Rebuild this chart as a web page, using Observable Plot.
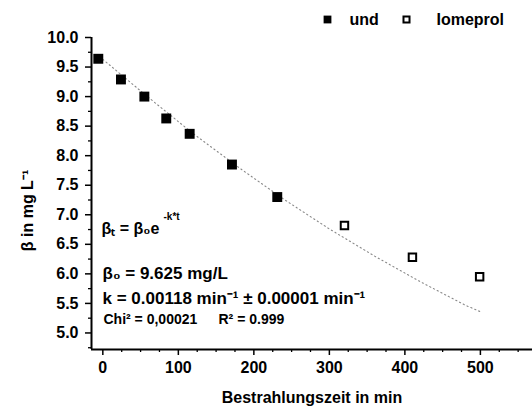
<!DOCTYPE html>
<html>
<head>
<meta charset="utf-8">
<script src="https://cdn.jsdelivr.net/npm/d3@7"></script>
<script src="https://cdn.jsdelivr.net/npm/@observablehq/plot@0.6"></script>
<style>
  html, body { margin: 0; padding: 0; background: #fff; }
</style>
</head>
<body>
<div id="chart"></div>
<script>
const timeUnd = [-6, 24, 55, 84, 115, 171, 231];
const betaUnd = [9.64, 9.29, 9.00, 8.63, 8.37, 7.85, 7.30];
const timeIomeprol = [320, 410, 499];
const betaIomeprol = [6.82, 6.28, 5.95];
// Fitted curve
const timeFit = [0, 60, 120, 180, 240, 300, 360, 420, 480, 500];
const betaFit = [9.63, 8.99, 8.37, 7.80, 7.26, 6.76, 6.30, 5.87, 5.47, 5.36];

// Axes
const xDomain = [-15, 569];
const yDomain = [4.72, 10.0];
const xTicks = [0, 100, 200, 300, 400, 500];
const xMinor = [25, 50, 75, 125, 150, 175, 225, 250, 275, 325, 350, 375, 425, 450, 475, 525, 550];
const yTicks = [5.0, 5.5, 6.0, 6.5, 7.0, 7.5, 8.0, 8.5, 9.0, 9.5, 10.0];
const yMinor = [4.75, 5.25, 5.75, 6.25, 6.75, 7.25, 7.75, 8.25, 8.75, 9.25, 9.75];

// Texts
const xLabel = "Bestrahlungszeit in min";
const yLabel = "β in mg L⁻¹";
const legendLabels = ["und", "Iomeprol"];
const eqMain = "βₜ = β₀e";
const eqSup = "-k*t";
const eqBeta0 = "β₀ = 9.625 mg/L";
const eqK = "k = 0.00118 min⁻¹ ± 0.00001 min⁻¹";
const eqChi = "Chi² = 0,00021";
const eqR2 = "R² = 0.999";

const und = timeUnd.map((t, i) => ({t, beta: betaUnd[i]}));
const iome = timeIomeprol.map((t, i) => ({t, beta: betaIomeprol[i]}));
const fit = timeFit.map((t, i) => ({t, beta: betaFit[i]}));

const font = "Liberation Sans, Arial, Helvetica, sans-serif";

const chart = Plot.plot({
  width: 532,
  height: 412,
  marginLeft: 91,
  marginRight: 0,
  marginTop: 37,
  marginBottom: 63,
  x: {domain: xDomain},
  y: {domain: yDomain},
  style: {fontFamily: font, fontSize: "16px", fontWeight: "bold", background: "#fff", color: "#000", overflow: "visible"},
  marks: [
    Plot.line(fit, {x: "t", y: "beta", stroke: "#888", strokeWidth: 1.1, strokeDasharray: "1.2,3"}),
    Plot.dot(und, {x: "t", y: "beta", symbol: "square", r: 5.6, fill: "#000", stroke: "none"}),
    Plot.dot(iome, {x: "t", y: "beta", symbol: "square", r: 4.2, fill: "#fff", stroke: "#000", strokeWidth: 2}),
    Plot.axisY({ticks: yTicks, tickSize: 6, tickPadding: 7, tickFormat: d => d.toFixed(1), label: null, strokeWidth: 1.5, fontSize: 16}),
    Plot.axisY({ticks: yMinor, tickSize: 3, tickFormat: () => "", label: null, strokeWidth: 1.3}),
    Plot.axisX({ticks: xTicks, tickSize: 6, tickPadding: 6, label: null, strokeWidth: 1.5, fontSize: 16}),
    Plot.axisX({ticks: xMinor, tickSize: 3, tickFormat: () => "", label: null, strokeWidth: 1.3}),
    Plot.ruleX([xDomain[0]], {stroke: "#000", strokeWidth: 2}),
    Plot.ruleY([yDomain[0]], {stroke: "#000", strokeWidth: 2}),
    // axis labels
    Plot.text([yLabel], {frameAnchor: "left", text: d => d, rotate: -90, dx: -64, dy: 17, textAnchor: "middle", lineAnchor: "middle", fontSize: 16, fontWeight: "bold"}),
    Plot.text([xLabel], {frameAnchor: "bottom", text: d => d, dy: 48, textAnchor: "middle", lineAnchor: "middle", fontSize: 16, fontWeight: "bold"}),
    // legend
    Plot.dot([legendLabels[0]], {frameAnchor: "top-left", symbol: "square", r: 4.4, fill: "#000", dx: 236, dy: -18}),
    Plot.text([legendLabels[0]], {frameAnchor: "top-left", text: d => d, dx: 258, dy: -18, textAnchor: "start", lineAnchor: "middle", fontSize: 16, fontWeight: "bold"}),
    Plot.dot([legendLabels[1]], {frameAnchor: "top-left", symbol: "square", r: 3.4, fill: "#fff", stroke: "#000", strokeWidth: 2, dx: 315, dy: -18}),
    Plot.text([legendLabels[1]], {frameAnchor: "top-left", text: d => d, dx: 345, dy: -18, textAnchor: "start", lineAnchor: "middle", fontSize: 16, fontWeight: "bold"}),
    // annotations
    Plot.text([eqMain], {frameAnchor: "top-left", text: d => d, dx: 10, dy: 191, textAnchor: "start", lineAnchor: "middle", fontSize: 16, fontWeight: "bold"}),
    Plot.text([eqSup], {frameAnchor: "top-left", text: d => d, dx: 72, dy: 179, textAnchor: "start", lineAnchor: "middle", fontSize: 10, fontWeight: "bold"}),
    Plot.text([eqBeta0], {frameAnchor: "top-left", text: d => d, dx: 11, dy: 236, textAnchor: "start", lineAnchor: "middle", fontSize: 17, fontWeight: "bold"}),
    Plot.text([eqK], {frameAnchor: "top-left", text: d => d, dx: 11, dy: 261, textAnchor: "start", lineAnchor: "middle", fontSize: 17, fontWeight: "bold"}),
    Plot.text([eqChi], {frameAnchor: "top-left", text: d => d, dx: 12, dy: 282, textAnchor: "start", lineAnchor: "middle", fontSize: 14, fontWeight: "bold"}),
    Plot.text([eqR2], {frameAnchor: "top-left", text: d => d, dx: 127, dy: 282, textAnchor: "start", lineAnchor: "middle", fontSize: 14, fontWeight: "bold"})
  ]
});
document.getElementById("chart").appendChild(chart);
</script>
</body>
</html>
